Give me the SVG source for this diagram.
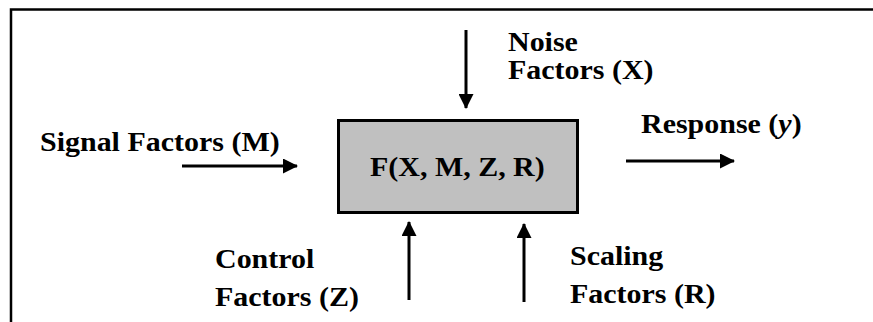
<svg xmlns="http://www.w3.org/2000/svg" width="873" height="322" viewBox="0 0 873 322">
<style>
.t{font-family:"Liberation Serif","Times New Roman",serif;font-weight:bold;font-size:27px;fill:#000}
.c{stroke:#000;stroke-width:3;fill:none}
</style>
<defs>
<marker id="ah" markerUnits="userSpaceOnUse" markerWidth="15" markerHeight="15" refX="14" refY="7.5" orient="auto" viewBox="0 0 15 15">
<path d="M0,0 L15,7.5 L0,15 Z" fill="#000"/>
</marker>
</defs>
<rect width="873" height="322" fill="#fff"/>
<g id="frame">
<path d="M11,322 V9.5 H873" stroke="#000" stroke-width="2.5" fill="none"/>
</g>
<g id="box">
<rect x="338.5" y="120.5" width="239" height="92" fill="#c0c0c0" stroke="#000" stroke-width="3"/>
<text class="t" transform="matrix(1.11,0,0,1,370,176)">F(X, M, Z, R)</text>
</g>
<g id="noise">
<text class="t" transform="matrix(1.11,0,0,1,508,51)">Noise</text>
<text class="t" transform="matrix(1.11,0,0,1,508,79)">Factors (X)</text>
</g>
<g id="signal">
<text class="t" transform="matrix(1.11,0,0,1,40,151)">Signal Factors (M)</text>
</g>
<g id="response">
<text class="t" transform="matrix(1.11,0,0,1,641,133)">Response (<tspan font-style="italic">y</tspan>)</text>
</g>
<g id="control">
<text class="t" transform="matrix(1.11,0,0,1,215,268)">Control</text>
<text class="t" transform="matrix(1.11,0,0,1,215,306)">Factors (Z)</text>
</g>
<g id="scaling">
<text class="t" transform="matrix(1.11,0,0,1,570,265)">Scaling</text>
<text class="t" transform="matrix(1.11,0,0,1,570,303)">Factors (R)</text>
</g>
<g id="connectors">
<line class="c" x1="466" y1="30" x2="466" y2="108" marker-end="url(#ah)"/>
<line class="c" x1="182" y1="166" x2="297" y2="166" marker-end="url(#ah)"/>
<line class="c" x1="626" y1="161" x2="734" y2="161" marker-end="url(#ah)"/>
<line class="c" x1="409" y1="300" x2="409" y2="222" marker-end="url(#ah)"/>
<line class="c" x1="524" y1="302" x2="524" y2="224" marker-end="url(#ah)"/>
</g>
</svg>
